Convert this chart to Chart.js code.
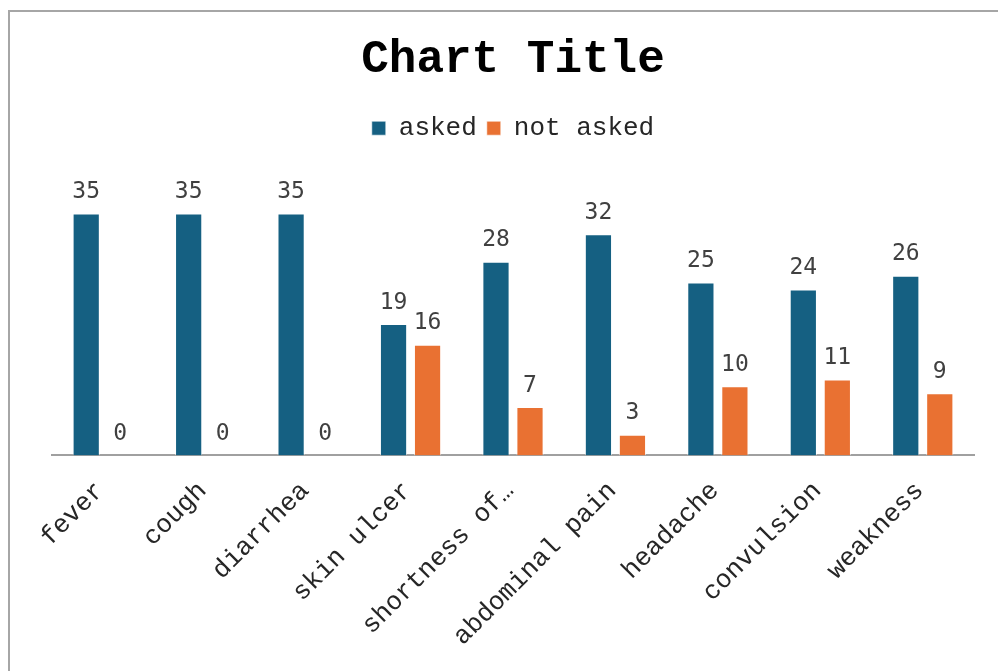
<!DOCTYPE html>
<html>
<head>
<meta charset="utf-8">
<script src="https://cdn.jsdelivr.net/npm/chart.js@4/dist/chart.umd.min.js"></script>
<style>
  html, body { margin: 0; padding: 0; background: #fff; overflow: hidden; }
  #wrap { position: relative; width: 998px; height: 671px; }
  #frame { position: absolute; left: 8px; top: 10px; width: 1100px; height: 800px;
           border: 2px solid #a6a6a6; box-sizing: border-box; pointer-events: none; }
</style>
</head>
<body>
<div id="wrap">
  <canvas id="chart" width="998" height="671"></canvas>
  <div id="frame"></div>
</div>
<script>
// Chart data
const categories = ['fever', 'cough', 'diarrhea', 'skin ulcer', 'shortness of breath',
                    'abdominal pain', 'headache', 'convulsion', 'weakness'];
const askedValues = [35, 35, 35, 19, 28, 32, 25, 24, 26];
const notAskedValues = [0, 0, 0, 16, 7, 3, 10, 11, 9];

const BLUE = '#156082';
const ORANGE = '#E97132';
const MONO = '"Courier New", "Liberation Mono", monospace';

// Draw the value above every bar (no datalabels plugin available offline)
const valueLabels = {
    id: 'valueLabels',
    afterDatasetsDraw(chart) {
        const ctx = chart.ctx;
        ctx.save();
        ctx.font = '23px "DejaVu Sans Mono", monospace';
        ctx.fillStyle = '#404040';
        ctx.textAlign = 'center';
        ctx.textBaseline = 'bottom';
        chart.data.datasets.forEach((ds, i) => {
            chart.getDatasetMeta(i).data.forEach((bar, j) => {
                ctx.fillText(String(ds.data[j]), bar.x, bar.y - 10);
            });
        });
        ctx.restore();
    }
};

new Chart(document.getElementById('chart').getContext('2d'), {
    type: 'bar',
    data: {
        labels: categories,
        datasets: [
            { label: 'asked', data: askedValues, backgroundColor: BLUE,
              borderColor: 'rgba(255,255,255,0.6)', borderWidth: 1 },
            { label: 'not asked', data: notAskedValues, backgroundColor: ORANGE,
              borderColor: 'rgba(255,255,255,0.6)', borderWidth: 1 }
        ]
    },
    options: {
        responsive: false,
        animation: false,
        layout: { padding: { left: 52, right: 24, top: 0, bottom: 7 } },
        datasets: { bar: { categoryPercentage: 0.664, barPercentage: 0.8 } },
        scales: {
            x: {
                grid: { display: false },
                border: { display: true, color: '#a0a0a0', width: 2 },
                ticks: {
                    color: '#262626',
                    font: { family: MONO, size: 26 },
                    minRotation: 45, maxRotation: 45,
                    padding: 12,
                    labelOffset: -3,
                    autoSkip: false,
                    callback: function(value) {
                        const s = this.getLabelForValue(value);
                        return s.length > 14 ? s.slice(0, 12) + '…' : s;
                    }
                }
            },
            y: { display: false, min: 0, max: 44 }
        },
        plugins: {
            title: {
                display: true, text: 'Chart Title', color: '#000',
                font: { family: MONO, size: 46, weight: 'bold' },
                padding: { top: 33, bottom: 17 }
            },
            legend: {
                position: 'top',
                labels: {
                    color: '#262626',
                    font: { family: MONO, size: 26 },
                    boxWidth: 14, boxHeight: 14, padding: 10
                }
            },
            tooltip: { enabled: false }
        }
    },
    plugins: [valueLabels]
});
</script>
</body>
</html>
